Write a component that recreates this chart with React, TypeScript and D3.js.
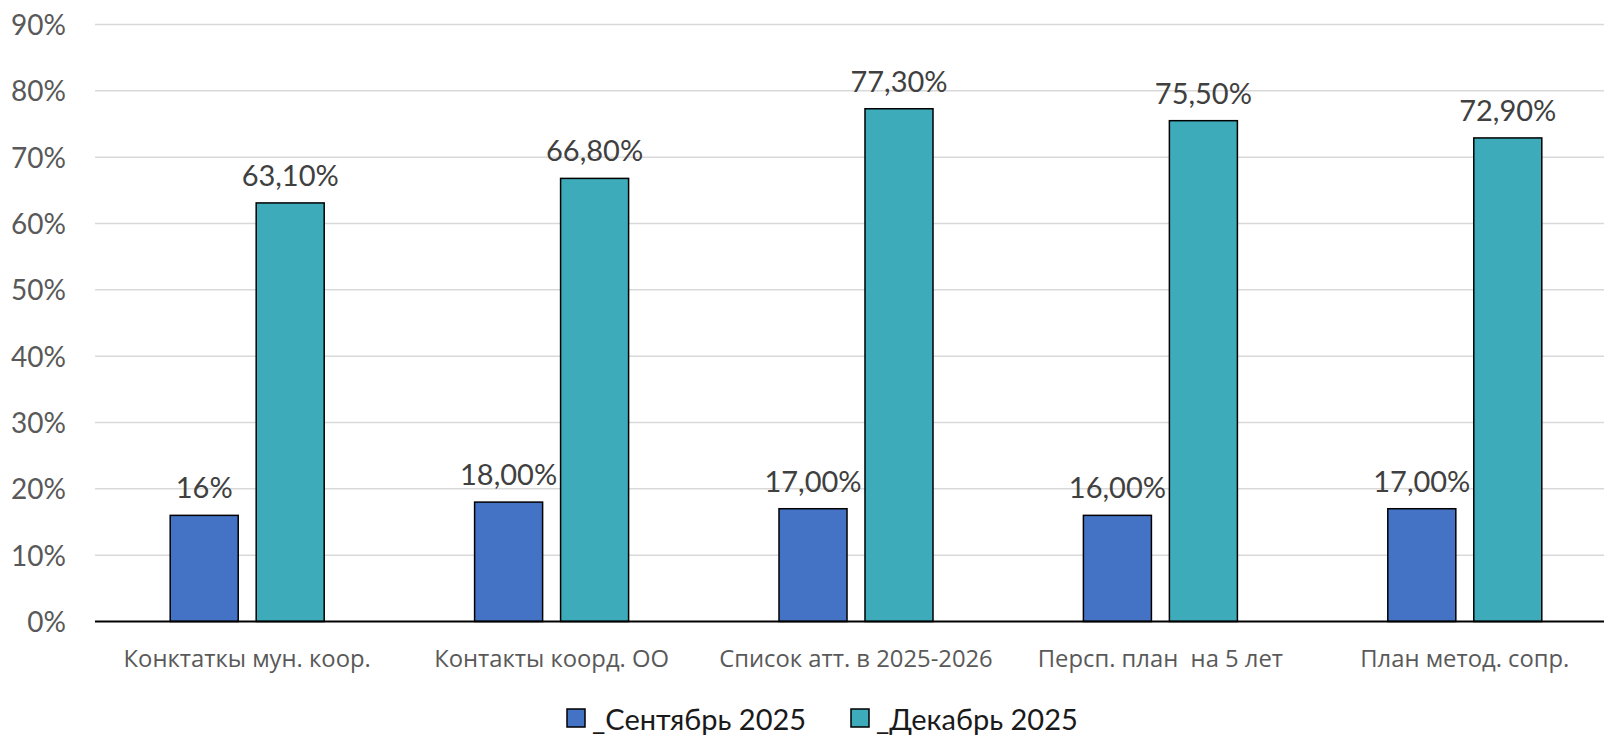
import React from "react";
import * as d3 from "d3";

const categories = [
  "Конктаткы мун. коор.",
  "Контакты коорд. ОО",
  "Список атт. в 2025-2026",
  "Персп. план  на 5 лет",
  "План метод. сопр.",
];
const seriesNames = ["_Сентябрь 2025", "_Декабрь 2025"];
const septValues = [16, 18, 17, 16, 17];
const decValues = [63.1, 66.8, 77.3, 75.5, 72.9];
const septLabels = ["16%", "18,00%", "17,00%", "16,00%", "17,00%"];
const decLabels = ["63,10%", "66,80%", "77,30%", "75,50%", "72,90%"];
const yTicks = [0, 10, 20, 30, 40, 50, 60, 70, 80, 90];
const colors = ["#4472C4", "#3DABBA"];

const W = 1604;
const H = 736;

export default function App() {
  const x = d3.scaleBand<string>().domain(categories).range([95, 1617]).paddingInner(0).paddingOuter(0);
  const groupW = 154;
  const sub = d3
    .scaleBand<number>()
    .domain([0, 1])
    .range([0, groupW])
    .paddingInner(0.209)
    .paddingOuter(0);
  const y = d3.scaleLinear().domain([0, 90]).range([621.5, 24.5]);
  const series = [
    { values: septValues, labels: septLabels },
    { values: decValues, labels: decLabels },
  ];
  const tickFont = "Lato, 'Open Sans', sans-serif";
  const catFont = "'Open Sans', 'Noto Sans', sans-serif";

  return (
    <svg
      width={W}
      height={H}
      style={{ position: "absolute", left: 0, top: 0, display: "block", background: "#fff" }}
    >
      <rect x={0} y={0} width={W} height={H} fill="#fff" />
      {yTicks.map((t) => (
        <g key={t}>
          {t !== 0 && (
            <line x1={95} x2={W} y1={y(t)} y2={y(t)} stroke="#d9d9d9" strokeWidth={1.5} />
          )}
          <text
            x={66}
            y={y(t) + 10.5}
            textAnchor="end"
            fontFamily={tickFont}
            fontSize={28}
            fill="#595959"
          >
            {t}%
          </text>
        </g>
      ))}
      {categories.map((c, i) => {
        const gx = x(c)! + x.bandwidth() / 2 - groupW / 2;
        return (
          <g key={c}>
            {series.map((s, j) => {
              const bx = gx + sub(j)!;
              const by = y(s.values[i]);
              return (
                <g key={j}>
                  <rect
                    x={bx}
                    y={by}
                    width={sub.bandwidth()}
                    height={y(0) - by}
                    fill={colors[j]}
                    stroke="#000"
                    strokeWidth={1.5}
                  />
                  <text
                    x={bx + sub.bandwidth() / 2}
                    y={by - 17}
                    textAnchor="middle"
                    fontFamily={tickFont}
                    fontSize={29}
                    fill="#404040"
                  >
                    {s.labels[i]}
                  </text>
                </g>
              );
            })}
            <text
              x={x(c)! + x.bandwidth() / 2}
              y={667}
              textAnchor="middle"
              fontFamily={catFont}
              fontSize={23.8}
              fill="#595959"
              style={{ whiteSpace: "pre" }}
            >
              {c}
            </text>
          </g>
        );
      })}
      <line x1={95} x2={W} y1={y(0)} y2={y(0)} stroke="#000" strokeWidth={2} />
      {seriesNames.map((n, j) => {
        const lx = j === 0 ? 567 : 851;
        return (
          <g key={n}>
            <rect x={lx} y={709} width={18} height={18} fill={colors[j]} stroke="#000" strokeWidth={1.5} />
            <text x={lx + 25} y={730} fontFamily={tickFont} fontSize={29} fill="#1a1a1a">
              {n}
            </text>
          </g>
        );
      })}
    </svg>
  );
}
